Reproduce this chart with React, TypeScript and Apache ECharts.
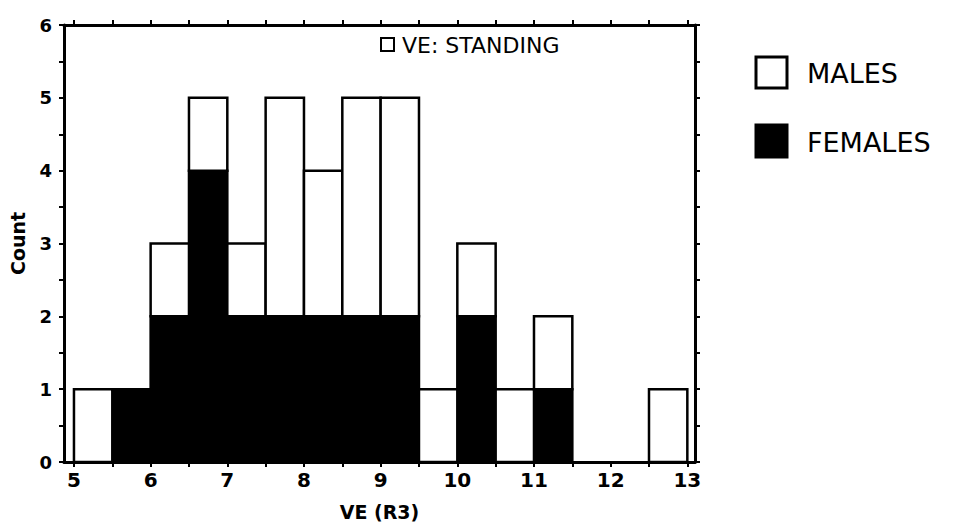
import React, { useEffect, useRef } from "react";
import * as echarts from "echarts";

// ---- data ----
const binWidth = 0.5;
const binStarts = [5, 5.5, 6, 6.5, 7, 7.5, 8, 8.5, 9, 9.5, 10, 10.5, 11, 11.5, 12, 12.5];
const females = [0, 1, 2, 4, 2, 2, 2, 2, 2, 0, 2, 0, 1, 0, 0, 0];
const males = [1, 0, 1, 1, 1, 3, 2, 3, 3, 1, 1, 1, 1, 0, 0, 1];

const xLabelValues = [5, 6, 7, 8, 9, 10, 11, 12, 13];
const xTickValues = [5, 5.5, 6, 6.5, 7, 7.5, 8, 8.5, 9, 9.5, 10, 10.5, 11, 11.5, 12, 12.5, 13];
const yLabelValues = [0, 1, 2, 3, 4, 5, 6];
const yTickValues = [0, 0.5, 1, 1.5, 2, 2.5, 3, 3.5, 4, 4.5, 5, 5.5, 6];

const xName = "VE (R3)";
const yName = "Count";
const insetLegend = "VE: STANDING";
const legendNames = ["MALES", "FEMALES"];

const FONT = "DejaVu Sans";

export default function App() {
  const ref = useRef<HTMLDivElement>(null);

  useEffect(() => {
    if (!ref.current) return;
    const chart = echarts.init(ref.current, null, { renderer: "svg" });

    const femaleData = binStarts
      .map((s, i) => [s, s + binWidth, 0, females[i]])
      .filter((d) => d[3] > 0);
    const maleData = binStarts
      .map((s, i) => [s, s + binWidth, females[i], females[i] + males[i]])
      .filter((d) => d[3] > d[2]);

    const makeRender = (fill: string) => (params: any, api: any) => {
      const p0 = api.coord([api.value(0), api.value(2)]);
      const p1 = api.coord([api.value(1), api.value(3)]);
      return {
        type: "rect",
        shape: { x: p0[0], y: p1[1], width: p1[0] - p0[0], height: p0[1] - p1[1] },
        style: { fill, stroke: "#000", lineWidth: 2.5 },
      };
    };

    const axisLine = { show: true, onZero: false, lineStyle: { color: "#000", width: 3 } };
    const tickStyle = { color: "#000", width: 2 };

    const xMin = 4.87;
    const xMax = 13.1;

    chart.setOption({
      animation: false,
      backgroundColor: "#fff",
      grid: { left: 63, right: 258, top: 25, bottom: 67 },
      xAxis: [
        {
          type: "value",
          position: "bottom",
          min: xMin,
          max: xMax,
          axisLine,
          axisTick: { show: true, customValues: xTickValues, length: 5, inside: false, lineStyle: tickStyle },
          axisLabel: {
            customValues: xLabelValues,
            color: "#000",
            fontFamily: FONT,
            fontWeight: "bold",
            fontSize: 20,
            margin: 8,
          },
          splitLine: { show: false },
          name: xName,
          nameLocation: "middle",
          nameGap: 40,
          nameTextStyle: { color: "#000", fontFamily: FONT, fontWeight: "bold", fontSize: 19 },
        },
        {
          type: "value",
          position: "top",
          min: xMin,
          max: xMax,
          axisLine,
          axisTick: { show: true, customValues: xTickValues, length: 5, inside: false, lineStyle: tickStyle },
          axisLabel: { show: false },
          splitLine: { show: false },
        },
      ],
      yAxis: [
        {
          type: "value",
          position: "left",
          min: 0,
          max: 6,
          axisLine,
          axisTick: { show: true, customValues: yTickValues, length: 5, inside: false, lineStyle: tickStyle },
          axisLabel: {
            customValues: yLabelValues,
            color: "#000",
            fontFamily: FONT,
            fontWeight: "bold",
            fontSize: 18,
            margin: 12,
          },
          splitLine: { show: false },
          name: yName,
          nameLocation: "middle",
          nameGap: 37,
          nameRotate: 90,
          nameTextStyle: { color: "#000", fontFamily: FONT, fontWeight: "bold", fontSize: 19 },
        },
        {
          type: "value",
          position: "right",
          min: 0,
          max: 6,
          axisLine,
          axisTick: { show: true, customValues: yTickValues, length: 5, inside: false, lineStyle: tickStyle },
          axisLabel: { show: false },
          splitLine: { show: false },
        },
      ],
      series: [
        {
          name: legendNames[1],
          type: "custom",
          xAxisIndex: 0,
          yAxisIndex: 0,
          renderItem: makeRender("#000"),
          encode: { x: [0, 1], y: [2, 3] },
          data: femaleData,
          clip: true,
        },
        {
          name: legendNames[0],
          type: "custom",
          xAxisIndex: 0,
          yAxisIndex: 0,
          renderItem: makeRender("#fff"),
          encode: { x: [0, 1], y: [2, 3] },
          data: maleData,
          clip: true,
        },
      ],
      graphic: [
        // inset legend
        {
          type: "rect",
          shape: { x: 381, y: 38, width: 13, height: 13 },
          style: { fill: "#fff", stroke: "#000", lineWidth: 2 },
        },
        {
          type: "text",
          x: 402,
          y: 45,
          style: {
            text: insetLegend,
            fill: "#000",
            font: `22px "${FONT}"`,
            verticalAlign: "middle",
            align: "left",
          },
        },
        // right legend
        {
          type: "rect",
          shape: { x: 756, y: 57, width: 31, height: 31 },
          style: { fill: "#fff", stroke: "#000", lineWidth: 3 },
        },
        {
          type: "text",
          x: 807,
          y: 73,
          style: {
            text: legendNames[0],
            fill: "#000",
            font: `27px "${FONT}"`,
            verticalAlign: "middle",
            align: "left",
          },
        },
        {
          type: "rect",
          shape: { x: 756, y: 125, width: 31, height: 32 },
          style: { fill: "#000", stroke: "#000", lineWidth: 3 },
        },
        {
          type: "text",
          x: 807,
          y: 142,
          style: {
            text: legendNames[1],
            fill: "#000",
            font: `27px "${FONT}"`,
            verticalAlign: "middle",
            align: "left",
          },
        },
      ],
    });

    return () => chart.dispose();
  }, []);

  return (
    <div
      ref={ref}
      style={{ position: "fixed", left: 0, top: 0, width: 953, height: 529 }}
    />
  );
}
